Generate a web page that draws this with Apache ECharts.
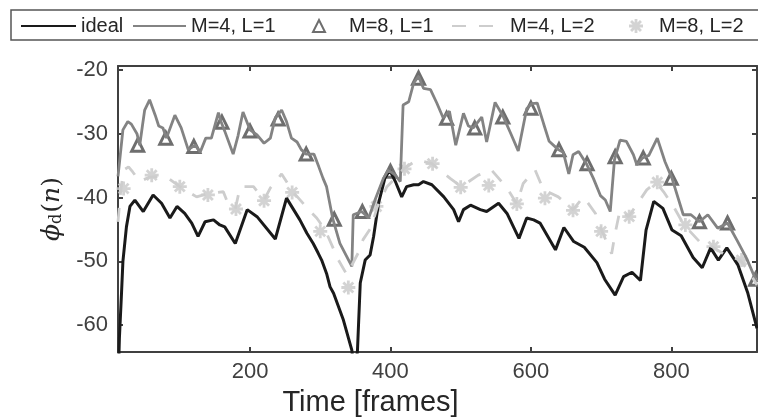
<!DOCTYPE html>
<html><head><meta charset="utf-8">
<script src="https://cdn.jsdelivr.net/npm/echarts@6/dist/echarts.min.js"></script>
<style>html,body{margin:0;padding:0;background:#fff}#c{width:758px;height:417px}</style>
</head><body><div id="c"></div>
<script>
// ---- data ----
const idealX = [12,14,17,19,24,29,36,48,62,74,86,96,107,117,126,136,148,157,164,179,196,210,236,252,271,281,290,297,302,309,314,319,333,345,349,353,357,364,371,376,383,392,399,407,416,423,433,440,447,459,476,490,497,504,514,528,537,554,566,583,594,604,613,635,647,661,676,694,705,720,732,744,756,764,775,788,801,814,831,844,856,867,879,895,909,922];
const idealY = [-70,-62,-55,-50,-44.6,-41.4,-40.4,-42.2,-39.6,-40.9,-43.2,-41.4,-42.5,-44.0,-46.1,-43.8,-43.5,-44.3,-44.6,-47.2,-41.9,-43.0,-46.5,-40.1,-43.5,-45.6,-47.2,-48.7,-49.8,-51.9,-54.0,-55.0,-59.2,-63.9,-68,-64,-53.4,-49.8,-49.0,-46.1,-40.9,-37.0,-35.7,-37.5,-39.9,-38.3,-38.0,-38.0,-37.5,-38.0,-39.9,-41.9,-43.8,-41.9,-41.2,-41.9,-42.2,-40.9,-42.5,-46.4,-43.2,-43.5,-44.0,-48.2,-44.7,-46.9,-47.8,-50.2,-52.8,-55.3,-52.4,-51.7,-53.0,-45.1,-40.6,-41.7,-45.1,-46.0,-49.4,-51.0,-47.9,-49.8,-47.9,-50.6,-55.0,-60.5];

const m4l1X = [12,15,19,26,31,39,43,47,50,57,65,70,76,81,93,102,112,122,129,137,145,155,159,164,176,183,190,200,210,220,229,236,245,252,259,267,273,280,291,298,304,309,318,328,338,345,347,359,369,378,390,397,407,414,418,426,433,440,447,457,466,475,484,493,504,511,518,530,537,549,561,571,582,594,601,609,618,626,639,646,654,660,668,679,689,699,706,713,719,727,736,746,751,759,768,780,791,801,817,828,840,852,866,880,894,907,920,922];
const m4l1Y = [-36.7,-33.6,-29.4,-28.1,-28.5,-30.0,-31.8,-28.6,-26.3,-24.7,-27.1,-28.8,-29.1,-30.7,-27.1,-29.1,-32.5,-31.8,-32.9,-30.7,-30.7,-26.7,-28.2,-29.6,-33.2,-30.3,-26.6,-29.4,-30.2,-31.5,-30.7,-27.5,-26.3,-28.1,-30.7,-31.3,-32.5,-33.2,-33.2,-35.2,-37.0,-38.3,-43.4,-47.2,-49.3,-50.8,-42.7,-42.2,-43.2,-40.4,-37.0,-35.7,-36.5,-37.5,-25.5,-25.0,-22.1,-21.0,-22.9,-23.1,-25.2,-27.5,-26.5,-31.8,-26.8,-28.8,-29.1,-27.4,-31.3,-25.1,-27.4,-29.9,-32.7,-26.1,-25.3,-25.2,-28.4,-31.2,-32.5,-32.9,-36.3,-33.3,-32.8,-34.7,-37.0,-39.7,-40.4,-42.2,-34.1,-31.0,-31.2,-33.3,-34.9,-33.8,-33.4,-30.7,-34.4,-37.0,-42.7,-42.7,-43.8,-42.7,-44.8,-44.0,-46.8,-49.5,-52.8,-53.3];

const m8l1X = [40,80,120,160,200,240,280,320,360,400,440,480,520,560,600,640,680,720,760,800,840,880,920];
const m8l1Y = [-31.8,-30.7,-32.0,-28.2,-29.6,-27.7,-33.2,-43.4,-42.2,-35.9,-21.3,-27.6,-29.1,-27.4,-26.0,-32.5,-34.7,-33.6,-33.8,-37.0,-43.8,-44.0,-52.8];

const m4l2X = [12,16,20,27,33,43,57,74,84,100,124,140,162,167,179,186,205,220,229,245,261,286,295,307,326,338,354,361,373,381,395,407,419,438,459,485,501,525,544,566,580,589,606,618,639,660,675,692,701,715,720,727,739,749,765,778,789,803,818,840,858,877,898,911,922];
const m4l2Y = [-43.8,-38.8,-35.7,-35.2,-36.0,-37.5,-36.8,-36.7,-37.0,-38.3,-39.9,-39.4,-39.1,-40.5,-41.8,-38.3,-38.3,-40.4,-38.5,-36.3,-39.1,-42.2,-43.2,-45.1,-49.8,-52.1,-48.7,-46.6,-44.6,-41.5,-38.3,-37.0,-35.5,-34.1,-34.7,-37.0,-38.3,-36.5,-35.7,-38.5,-41.0,-37.8,-35.7,-38.8,-39.9,-41.9,-39.9,-42.5,-45.2,-48.8,-45.6,-41.9,-43.0,-41.4,-38.8,-37.6,-39.1,-41.4,-44.3,-46.9,-47.7,-49.0,-49.8,-51.7,-53.7];

const m8l2X = [20,60,100,140,180,220,260,300,340,380,420,460,500,540,580,620,660,700,740,780,820,860,900];
const m8l2Y = [-38.6,-36.5,-38.3,-39.6,-41.8,-40.5,-39.2,-45.3,-54.1,-41.4,-35.5,-34.7,-38.4,-38.1,-41.0,-40.1,-42.0,-45.3,-43.0,-37.6,-44.3,-47.7,-49.8];

const xTicks = [200,400,600,800];
const yTicks = [-60,-50,-40,-30,-20];
const xRange = [12, 922];
const yRange = [-64.2, -19.4];
const seriesNames = ['ideal','M=4, L=1','M=8, L=1','M=4, L=2','M=8, L=2'];

// ---- helpers ----
const zip = (xs, ys) => xs.map((x, i) => [x, ys[i]]);
const asterisk = 'path://M8 0L12 0L12 20L8 20Z M0 8L20 8L20 12L0 12Z M1.51 4.34L4.34 1.51L18.49 15.66L15.66 18.49Z M15.66 1.51L18.49 4.34L4.34 18.49L1.51 15.66Z';
const axisColor = '#404040';
const sans = '"Liberation Sans", Arial, Helvetica, sans-serif';

const chart = echarts.init(document.getElementById('c'), null, {renderer: 'canvas'});

const baseAxis = {
  type: 'value',
  axisLine: {show: true, onZero: false, lineStyle: {color: axisColor, width: 2}},
  axisTick: {show: true, inside: true, length: 5, lineStyle: {color: axisColor, width: 2}},
  splitLine: {show: false},
};

const legendCommon = {
  top: 16, padding: 0, itemHeight: 14, selectedMode: false,
  textStyle: {fontFamily: sans, fontSize: 20, color: '#262626'}
};
const lineLegend = {itemStyle: {opacity: 0}};

chart.setOption({
  animation: false,
  backgroundColor: '#fff',
  grid: {left: 118, right: 1, top: 66, bottom: 65, containLabel: false, outerBoundsMode: 'none'},
  graphic: [{
    type: 'rect', shape: {x: 11, y: 10, width: 780, height: 30},
    style: {fill: 'none', stroke: '#555', lineWidth: 1.5}, silent: true, z: -1
  }],
  legend: [
    Object.assign({}, legendCommon, lineLegend, {data: [seriesNames[0]], left: 20, itemWidth: 55}),
    Object.assign({}, legendCommon, lineLegend, {data: [seriesNames[1]], left: 132, itemWidth: 53}),
    Object.assign({}, legendCommon, {data: [seriesNames[2]], left: 312, itemWidth: 12, itemHeight: 12,
      textStyle: Object.assign({}, legendCommon.textStyle, {padding: [0, 0, 0, 19]})}),
    Object.assign({}, legendCommon, lineLegend, {data: [seriesNames[3]], left: 451, itemWidth: 53}),
    Object.assign({}, legendCommon, {data: [seriesNames[4]], left: 629, itemWidth: 14, itemHeight: 14,
      textStyle: Object.assign({}, legendCommon.textStyle, {padding: [0, 0, 0, 11]})})
  ],
  xAxis: [
    Object.assign({}, baseAxis, {
      position: 'bottom', min: xRange[0], max: xRange[1],
      axisTick: Object.assign({}, baseAxis.axisTick, {customValues: xTicks}),
      axisLabel: {customValues: xTicks, margin: 9, color: axisColor, fontFamily: sans, fontSize: 22},
      name: 'Time [frames]', nameLocation: 'middle', nameGap: 36,
      nameTextStyle: {fontFamily: sans, fontSize: 29, color: '#262626', padding: [0, 134, 0, 0]}
    }),
    Object.assign({}, baseAxis, {
      position: 'top', min: xRange[0], max: xRange[1],
      axisTick: Object.assign({}, baseAxis.axisTick, {customValues: xTicks}),
      axisLabel: {show: false}
    })
  ],
  yAxis: [
    Object.assign({}, baseAxis, {
      position: 'left', min: yRange[0], max: yRange[1],
      axisTick: Object.assign({}, baseAxis.axisTick, {customValues: yTicks}),
      axisLabel: {customValues: yTicks, margin: 10, color: axisColor, fontFamily: sans, fontSize: 22},
      name: '{i|ϕ}{s|d}{r|(}{i|n}{r|)}', nameLocation: 'middle', nameGap: 52, nameRotate: 90,
      nameTextStyle: {
        rich: {
          i: {fontFamily: '"DejaVu Serif", "Liberation Serif", serif', fontStyle: 'italic', fontSize: 25, color: '#262626'},
          r: {fontFamily: '"DejaVu Serif", "Liberation Serif", serif', fontSize: 25, color: '#262626'},
          s: {fontFamily: '"DejaVu Serif", "Liberation Serif", serif', fontSize: 16, color: '#262626', padding: [10, 1, 0, 0]}
        }
      }
    }),
    Object.assign({}, baseAxis, {
      position: 'right', min: yRange[0], max: yRange[1],
      axisTick: Object.assign({}, baseAxis.axisTick, {customValues: yTicks}),
      axisLabel: {show: false}
    })
  ],
  series: [
    {name: seriesNames[0], type: 'line', data: zip(idealX, idealY), showSymbol: false, symbol: 'none',
     lineStyle: {color: '#1a1a1a', width: 3}, itemStyle: {color: '#1a1a1a'}, silent: true, clip: true},
    {name: seriesNames[1], type: 'line', data: zip(m4l1X, m4l1Y), showSymbol: false, symbol: 'none',
     lineStyle: {color: '#838383', width: 2.8}, itemStyle: {color: '#838383'}, silent: true, clip: true},
    {name: seriesNames[2], type: 'scatter', data: zip(m8l1X, m8l1Y), symbol: 'triangle', symbolSize: 12,
     itemStyle: {color: '#ffffff', borderColor: '#6e6e6e', borderWidth: 3, opacity: 1}, silent: true, clip: true},
    {name: seriesNames[3], type: 'line', data: zip(m4l2X, m4l2Y), showSymbol: false, symbol: 'none',
     lineStyle: {color: '#cdcdcd', width: 2.8, type: [14, 13]}, itemStyle: {color: '#cdcdcd'}, silent: true, clip: true},
    {name: seriesNames[4], type: 'scatter', data: zip(m8l2X, m8l2Y), symbol: asterisk, symbolSize: 14,
     itemStyle: {color: '#c8c8c8'}, silent: true, clip: true}
  ]
});
</script>
</body></html>
